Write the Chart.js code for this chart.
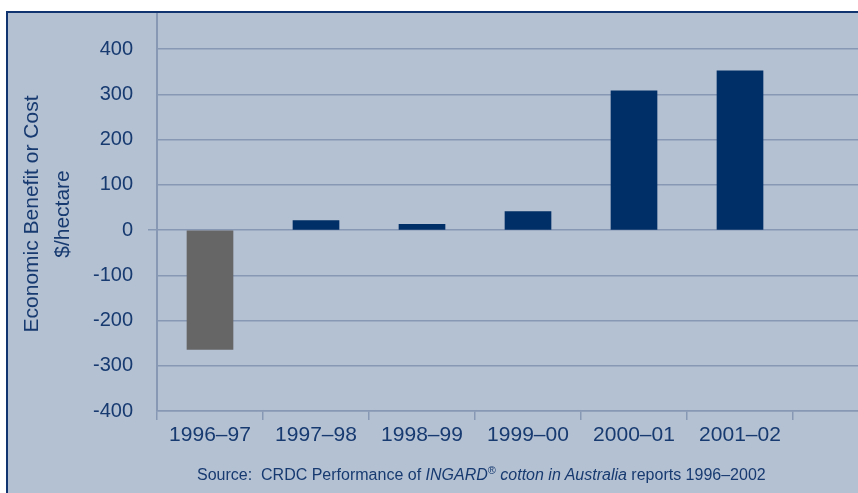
<!DOCTYPE html>
<html>
<head>
<meta charset="utf-8">
<script src="https://cdn.jsdelivr.net/npm/chart.js@4"></script>
<style>
  html, body { margin: 0; padding: 0; background: #fff; width: 858px; height: 493px; overflow: hidden; }
  #panel {
    position: absolute; left: 6px; top: 11px; width: 870px; height: 490px;
    background: #b4c1d3; border-left: 2px solid #0f3470; border-top: 2px solid #0f3470;
    overflow: hidden;
  }
  #source {
    position: absolute; left: 189px; top: 453px; white-space: nowrap;
    font-family: "Liberation Sans", Arial, sans-serif; font-size: 16px; color: #173a70;
  }
  #source sup { font-size: 11px; vertical-align: 6px; line-height: 0; }
</style>
</head>
<body>
<div id="panel">
  <canvas id="chart" width="900" height="480"></canvas>
  <div id="source">Source:&nbsp; CRDC Performance of <i>INGARD</i><sup>®</sup> <i>cotton in Australia</i> reports 1996–2002</div>
</div>
<script>
// seasons, plus one empty slot on the right that runs off the panel
const seasons = ["1996–97", "1997–98", "1998–99", "1999–00", "2000–01", "2001–02", ""];
const benefit = [-264, 21, 13, 41, 308, 352];
const yTicks = [-400, -300, -200, -100, 0, 100, 200, 300, 400];

const textColor = "#173a70";
const gridColor = "#8798b4";

// two line axis title, drawn by hand so it sits where the original one does
const yTitle = {
  id: "yTitle",
  afterDraw(chart) {
    const c = chart.ctx;
    c.save();
    c.fillStyle = textColor;
    c.font = "21px 'Liberation Sans'";
    c.textAlign = "center";
    c.textBaseline = "middle";
    c.translate(24, 201);
    c.rotate(-Math.PI / 2);
    c.fillText("Economic Benefit or Cost", 0, 0);
    c.fillText("$/hectare", 0, 31);
    c.restore();
  }
};

new Chart(document.getElementById("chart"), {
  type: "bar",
  data: {
    labels: seasons,
    datasets: [{
      data: benefit,
      backgroundColor: benefit.map(v => v < 0 ? "#666666" : "#002e66"),
      borderWidth: 0,
      barThickness: 46
    }]
  },
  options: {
    responsive: false,
    animation: false,
    layout: { padding: { top: 0, right: 9, bottom: 42, left: 0 } },
    plugins: { legend: { display: false }, tooltip: { enabled: false } },
    scales: {
      x: {
        afterFit: s => { s.height = 40; s.paddingLeft = 0; s.paddingRight = 0; },
        grid: { drawOnChartArea: false, offset: true, tickLength: 9, color: gridColor, lineWidth: 1.5 },
        border: { display: true, color: gridColor, width: 1.5 },
        ticks: { color: textColor, font: { family: "Liberation Sans", size: 21 }, padding: 3, maxRotation: 0, autoSkip: false }
      },
      y: {
        min: -400,
        max: 480,
        afterFit: s => { s.width = 149; s.paddingTop = 0; s.paddingBottom = 0; },
        afterBuildTicks: s => { s.ticks = yTicks.map(v => ({ value: v })); },
        grid: {
          color: gridColor,
          lineWidth: 1.5,
          tickLength: 9,
          tickColor: ctx => ctx.tick && ctx.tick.value === 0 ? gridColor : "rgba(0,0,0,0)"
        },
        border: { display: true, color: gridColor, width: 2 },
        ticks: { color: textColor, font: { family: "Liberation Sans", size: 20 }, padding: 15 }
      }
    }
  },
  plugins: [yTitle]
});
</script>
</body>
</html>
